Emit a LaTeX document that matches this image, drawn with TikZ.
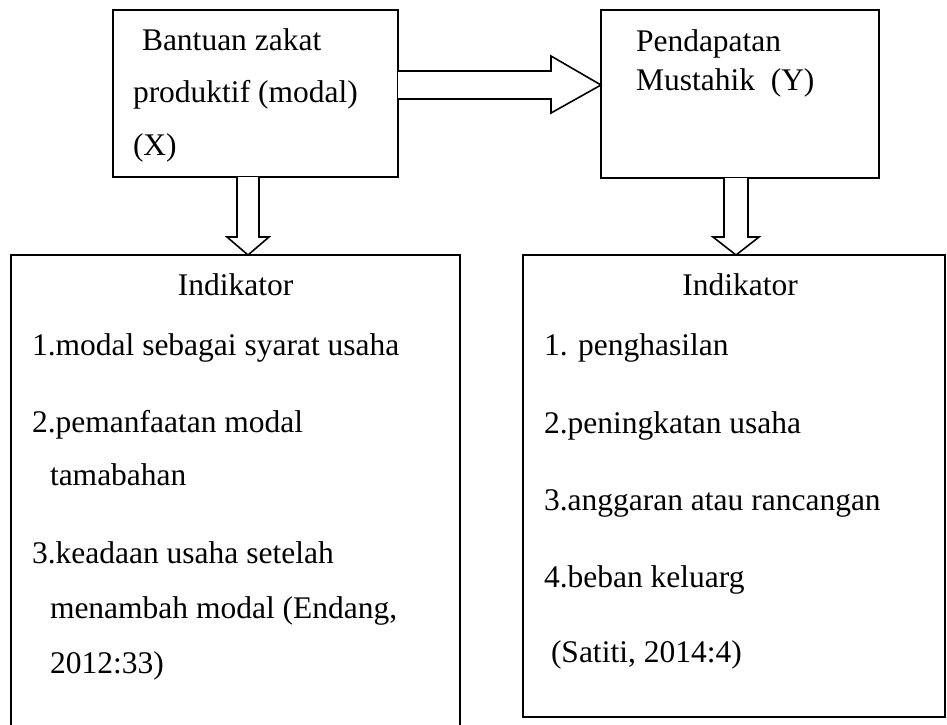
\documentclass[tikz,border=0pt]{standalone}
\usepackage{fontspec}
\setmainfont{Liberation Serif}
\usetikzlibrary{calc}
\begin{document}
\begin{tikzpicture}[x=1pt,y=-1pt,
  box/.style={draw=black,line width=1.8pt,rectangle,inner sep=0pt,outer sep=0pt,anchor=north west},
  txt/.style={inner sep=0pt,outer sep=0pt,anchor=base west,font=\fontsize{31.5}{38}\selectfont},
  blockarrow/.style={draw=black,line width=1.6pt,fill=white,line join=miter}]
\useasboundingbox (0,0) rectangle (947,724);
% boxes
\node[box,minimum width=285pt,minimum height=167pt] (bx) at (113,10) {};
\node[box,minimum width=278pt,minimum height=168pt] (by) at (601,10) {};
\node[box,minimum width=449pt,minimum height=480pt] (ix) at (11,255) {};
\node[box,minimum width=422pt,minimum height=462pt] (iy) at (523,255) {};
% texts top
\node[txt] (t1) at (142,50) {Bantuan zakat};
\node[txt] (t2) at (133,102) {produktif (modal)};
\node[txt] (t3) at (133,155) {(X)};
\node[txt] (t4) at (636,51) {Pendapatan};
\node[txt] (t5) at (636,90) {Mustahik\ \ (Y)};
% left indicators
\node[txt,anchor=base] (l0) at (235.5,295) {Indikator};
\node[txt] (l1) at (32,355) {1.modal sebagai syarat usaha};
\node[txt] (l2) at (32,432) {2.pemanfaatan modal};
\node[txt] (l3) at (50,485) {tamabahan};
\node[txt] (l4) at (32,563) {3.keadaan usaha setelah};
\node[txt] (l5) at (50,618) {menambah modal (Endang,};
\node[txt] (l6) at (50,673) {2012:33)};
% right indicators
\node[txt,anchor=base] (r0) at (740,295) {Indikator};
\node[txt] (r1) at (544,355) {1. penghasilan};
\node[txt] (r2) at (544,433) {2.peningkatan usaha};
\node[txt] (r3) at (544,510) {3.anggaran atau rancangan};
\node[txt] (r4) at (544,587) {4.beban keluarg};
\node[txt] (r5) at (551,662) {(Satiti, 2014:4)};
% horizontal block arrow bx -> by
\coordinate (hs) at (bx.east |- 0,85);
\coordinate (ht) at (by.west |- 0,85);
\draw[blockarrow] ($(hs)+(0,-14)$) -- ($(ht)+(-50,-14)$) -- ($(ht)+(-50,-29)$) -- (ht)
  -- ($(ht)+(-50,28)$) -- ($(ht)+(-50,14)$) -- ($(hs)+(0,14)$);
% down block arrow bx -> ix
\coordinate (ds) at (bx.south -| 248,0);
\coordinate (dt) at (ix.north -| 248,0);
\draw[blockarrow] ($(ds)+(-11,0)$) -- ($(dt)+(-11,-18)$) -- ($(dt)+(-21,-18)$) -- (dt)
  -- ($(dt)+(21,-18)$) -- ($(dt)+(11,-18)$) -- ($(ds)+(11,0)$);
% down block arrow by -> iy
\coordinate (es) at (by.south -| 736,0);
\coordinate (et) at (iy.north -| 736,0);
\draw[blockarrow] ($(es)+(-12,0)$) -- ($(et)+(-12,-18)$) -- ($(et)+(-23,-18)$) -- (et)
  -- ($(et)+(23,-18)$) -- ($(et)+(12,-18)$) -- ($(es)+(12,0)$);
\end{tikzpicture}
\end{document}
